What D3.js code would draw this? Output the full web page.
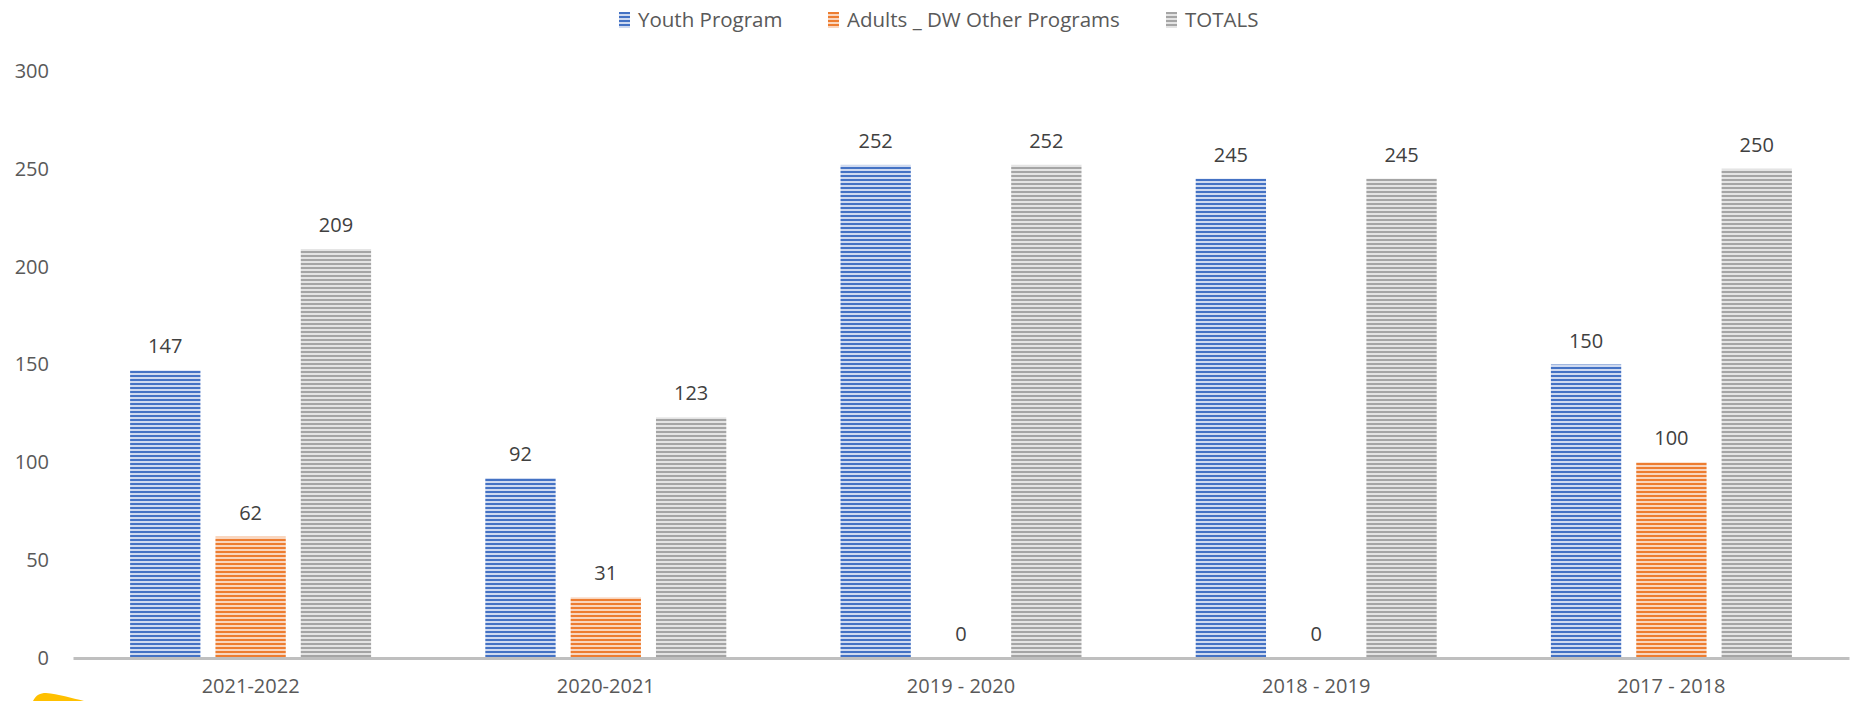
<!DOCTYPE html>
<html>
<head>
<meta charset="utf-8">
<script src="https://cdn.jsdelivr.net/npm/d3@7"></script>
<style>
  body { margin: 0; background: #fff; }
  svg { display: block; font-family: "Open Sans", sans-serif; }
</style>
</head>
<body>
<div id="chart"></div>
<script>
// data
var seasons = ["2021-2022", "2020-2021", "2019 - 2020", "2018 - 2019", "2017 - 2018"];
var seriesNames = ["Youth Program", "Adults _ DW Other Programs", "TOTALS"];
var youth = [147, 92, 252, 245, 150];
var adults = [62, 31, 0, 0, 100];
var totals = [209, 123, 252, 245, 250];
var yTicks = [0, 50, 100, 150, 200, 250, 300];

var colors = ["#4472C4", "#ED7D31", "#A5A5A5"];
var lightColors = ["#cfdaf0", "#f9d6bf", "#e4e4e4"];

var svgWidth = 1852;
var svgHeight = 701;

var margin = { top: 71, right: 3, bottom: 43, left: 73 };
var chartWidth = svgWidth - margin.left - margin.right;
var chartHeight = svgHeight - margin.top - margin.bottom;

var svg = d3.select("#chart")
  .append("svg")
  .attr("width", svgWidth)
  .attr("height", svgHeight);

// striped fills
var defs = svg.append("defs");
colors.forEach(function(c, i) {
  var p = defs.append("pattern")
    .attr("id", "stripe" + i)
    .attr("patternUnits", "userSpaceOnUse")
    .attr("width", 8)
    .attr("height", 4);
  p.append("rect").attr("width", 8).attr("height", 4).attr("fill", lightColors[i]);
  p.append("rect").attr("width", 8).attr("height", 2).attr("fill", c);
});

var chartGroup = svg.append("g")
  .attr("transform", "translate(" + margin.left + "," + margin.top + ")");

var x0 = d3.scaleBand()
  .domain(seasons)
  .range([0, chartWidth])
  .padding(0);

var x1 = d3.scaleBand()
  .domain(seriesNames)
  .range([x0.bandwidth() / 2 - 120.5, x0.bandwidth() / 2 + 120.5])
  .paddingInner(0.176)
  .paddingOuter(0);

var yScale = d3.scaleLinear()
  .domain([0, 300])
  .range([chartHeight, 0]);

var rows = seasons.map(function(s, i) {
  return { season: s, values: [youth[i], adults[i], totals[i]] };
});

// y axis labels (no line, no ticks)
var yAxis = d3.axisLeft(yScale).tickValues(yTicks).tickSize(0).tickPadding(24);
var yG = chartGroup.append("g").call(yAxis);
yG.select(".domain").remove();
yG.selectAll("text")
  .attr("font-family", "Open Sans")
  .attr("font-size", 20)
  .attr("fill", "#595959");

var groups = chartGroup.selectAll(".season")
  .data(rows)
  .enter()
  .append("g")
  .attr("class", "season")
  .attr("transform", function(d) { return "translate(" + x0(d.season) + ",0)"; });

groups.selectAll("rect")
  .data(function(d) { return d.values; })
  .enter()
  .append("rect")
  .attr("x", function(d, i) { return x1(seriesNames[i]); })
  .attr("y", function(d) { return yScale(d); })
  .attr("width", x1.bandwidth())
  .attr("height", function(d) { return chartHeight - yScale(d); })
  .attr("fill", function(d, i) { return "url(#stripe" + i + ")"; });

groups.selectAll(".lbl")
  .data(function(d) { return d.values; })
  .enter()
  .append("text")
  .attr("class", "lbl")
  .attr("x", function(d, i) { return x1(seriesNames[i]) + x1.bandwidth() / 2; })
  .attr("y", function(d) { return yScale(d) - 17; })
  .attr("text-anchor", "middle")
  .attr("font-size", 20)
  .attr("fill", "#404040")
  .text(function(d) { return d; });

// x axis
var xAxis = d3.axisBottom(x0).tickSize(0).tickPadding(21);
var xG = chartGroup.append("g")
  .attr("transform", "translate(0," + chartHeight + ")")
  .call(xAxis);
xG.select(".domain").attr("stroke", "#bfbfbf").attr("stroke-width", 3);
xG.selectAll("text")
  .attr("font-family", "Open Sans")
  .attr("font-size", 20)
  .attr("fill", "#595959");

// legend
var legendX = [619, 828, 1166];
var legend = svg.append("g");
seriesNames.forEach(function(name, i) {
  legend.append("rect")
    .attr("x", legendX[i])
    .attr("y", 12)
    .attr("width", 11)
    .attr("height", 16)
    .attr("fill", "url(#stripe" + i + ")");
  legend.append("text")
    .attr("x", legendX[i] + 19)
    .attr("y", 27)
    .attr("font-size", 20.5)
    .attr("fill", "#595959")
    .text(name);
});

// yellow decoration in the lower left corner
svg.append("path")
  .attr("d", "M33,701 C36,695 40,693 46,693 C58,694 72,698 84,701 Z")
  .attr("fill", "#FFC000");
</script>
</body>
</html>
